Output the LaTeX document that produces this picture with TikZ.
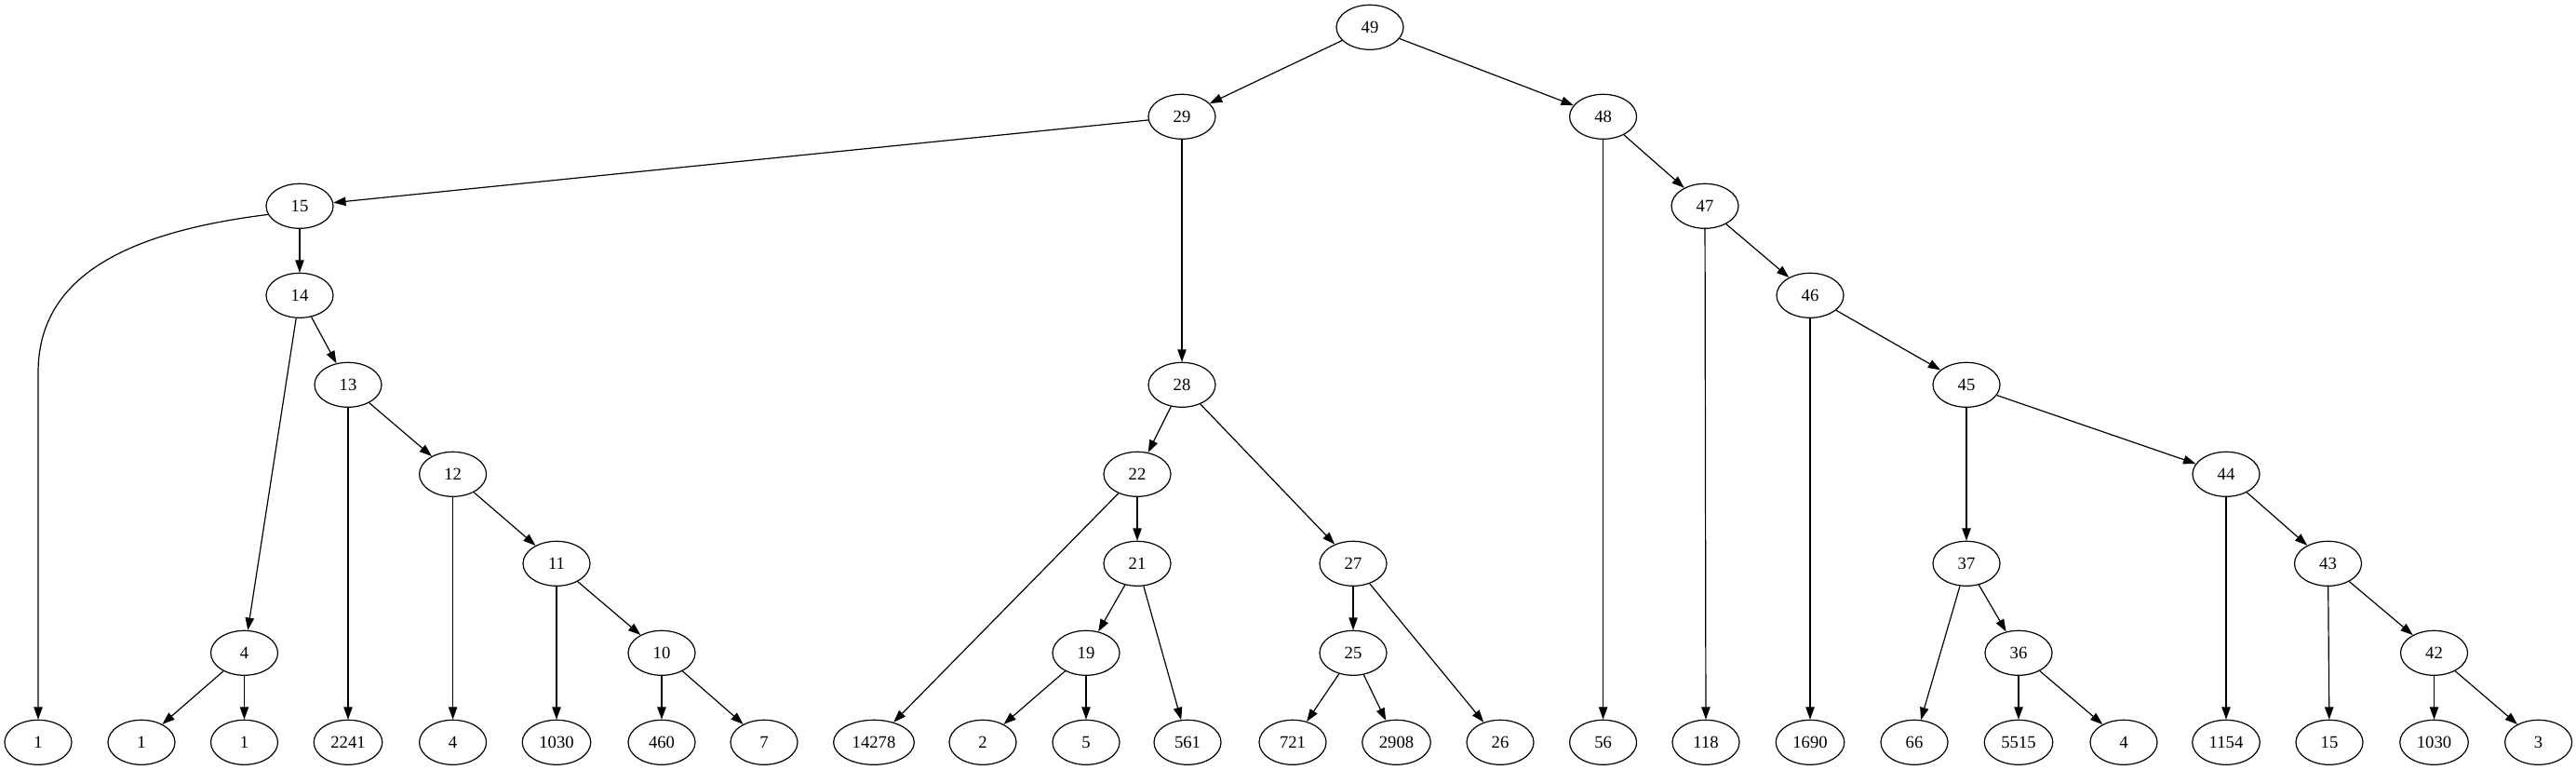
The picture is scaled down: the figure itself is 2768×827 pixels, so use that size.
\documentclass[tikz,border=0pt]{standalone}
\usepackage{fontspec}
\setmainfont{Liberation Serif}
\usetikzlibrary{shapes.geometric,arrows.meta}
\begin{document}
\begin{tikzpicture}[x=0.75pt,y=-0.75pt,
  nd/.style={draw,line width=0.9pt,ellipse,minimum width=54pt,minimum height=36pt,inner xsep=5.5pt,inner ysep=2pt,font=\fontsize{14}{16}\selectfont},
  edge/.style={line width=0.9pt,-{Triangle[length=10pt,width=7pt]}}]
\useasboundingbox (0,0) rectangle (2768,827);
% rows
\def\ra{29.3}\def\rb{125.3}\def\rc{221.3}\def\rd{317.3}\def\re{413.3}
\def\rf{509.3}\def\rg{605.3}\def\rh{701.3}\def\ri{797.3}
\node[nd] (n49) at (1472,\ra) {49};
\node[nd] (n29) at (1270,\rb) {29};
\node[nd] (n48) at (1722.6,\rb) {48};
\node[nd] (n15) at (322,\rc) {15};
\node[nd] (n47) at (1832,\rc) {47};
\node[nd] (n14) at (322,\rd) {14};
\node[nd] (n46) at (1945,\rd) {46};
\node[nd] (n13) at (374,\re) {13};
\node[nd] (n28) at (1270,\re) {28};
\node[nd] (n45) at (2113,\re) {45};
\node[nd] (n12) at (486.6,\rf) {12};
\node[nd] (n22) at (1222,\rf) {22};
\node[nd] (n44) at (2392,\rf) {44};
\node[nd] (n11) at (598,\rg) {11};
\node[nd] (n21) at (1222,\rg) {21};
\node[nd] (n27) at (1454,\rg) {27};
\node[nd] (n37) at (2113,\rg) {37};
\node[nd] (n43) at (2501.5,\rg) {43};
\node[nd] (n4) at (262.5,\rh) {4};
\node[nd] (n10) at (711,\rh) {10};
\node[nd] (n19) at (1167,\rh) {19};
\node[nd] (n25) at (1454,\rh) {25};
\node[nd] (n36) at (2169,\rh) {36};
\node[nd] (n42) at (2615.5,\rh) {42};
% leaves
\node[nd] (la) at (41,\ri) {1};
\node[nd] (lb) at (152,\ri) {1};
\node[nd] (lc) at (262.5,\ri) {1};
\node[nd] (ld) at (374,\ri) {2241};
\node[nd] (le) at (486.6,\ri) {4};
\node[nd] (lf) at (598,\ri) {1030};
\node[nd] (lg) at (711,\ri) {460};
\node[nd] (lh) at (821,\ri) {7};
\node[nd] (li) at (939,\ri) {14278};
\node[nd] (lj) at (1056,\ri) {2};
\node[nd] (lk) at (1167,\ri) {5};
\node[nd] (ll) at (1276,\ri) {561};
\node[nd] (lm) at (1389,\ri) {721};
\node[nd] (ln) at (1500.5,\ri) {2908};
\node[nd] (lo) at (1612,\ri) {26};
\node[nd] (lp) at (1722.6,\ri) {56};
\node[nd] (lq) at (1833,\ri) {118};
\node[nd] (lr) at (1945,\ri) {1690};
\node[nd] (ls) at (2057,\ri) {66};
\node[nd] (lt) at (2169,\ri) {5515};
\node[nd] (lu) at (2282,\ri) {4};
\node[nd] (lv) at (2392,\ri) {1154};
\node[nd] (lw) at (2503,\ri) {15};
\node[nd] (lx) at (2615.5,\ri) {1030};
\node[nd] (ly) at (2727.6,\ri) {3};
% edges
\foreach \a/\b in {n49/n29,n49/n48,n29/n15,n29/n28,n15/n14,n14/n4,n14/n13,
  n13/ld,n13/n12,n12/le,n12/n11,n11/lf,n11/n10,n10/lg,n10/lh,n4/lb,n4/lc,
  n28/n22,n28/n27,n22/li,n22/n21,n21/n19,n21/ll,n19/lj,n19/lk,n27/n25,n27/lo,
  n25/lm,n25/ln,n48/lp,n48/n47,n47/lq,n47/n46,n46/lr,n46/n45,n45/n37,n45/n44,
  n37/ls,n37/n36,n36/lt,n36/lu,n44/lv,n44/n43,n43/lw,n43/n42,n42/lx,n42/ly}
  \draw[edge] (\a) -- (\b);
\coordinate (bend) at (41,400);
\draw[edge] (n15.195) .. controls (130,250) and (41,300) .. (bend) -- (la);
\end{tikzpicture}
\end{document}
